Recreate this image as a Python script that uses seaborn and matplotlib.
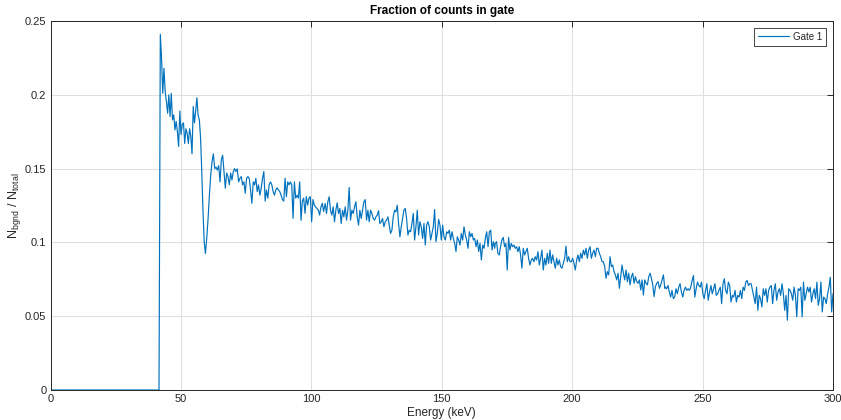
import numpy as np
import pandas as pd
import matplotlib
matplotlib.use("Agg")
import matplotlib.pyplot as plt
from matplotlib.ticker import FuncFormatter
import seaborn as sns

# ---------------- data ----------------
pre_energy = [0.0, 41.6]
pre_values = [0.0, 0.0]

peak_range = (42.1, 59.4)
peak_values = [
    0.241, 0.225, 0.201, 0.218, 0.202, 0.1955, 0.1875, 0.200, 0.1853, 0.201,
    0.183, 0.1864, 0.1762, 0.182, 0.175, 0.165, 0.189, 0.173, 0.180, 0.181,
    0.167, 0.177, 0.174, 0.167, 0.177, 0.172, 0.160, 0.192, 0.181, 0.189,
    0.198, 0.186, 0.183, 0.171, 0.148, 0.121, 0.100, 0.0925,
]

seg1_range = (59.9, 104.7)
seg1_values = [
    0.103, 0.116,
    0.132, 0.1455, 0.1548, 0.160, 0.150, 0.151, 0.149, 0.152, 0.141, 0.156,
    0.159, 0.148, 0.1367, 0.147, 0.1446, 0.139, 0.147, 0.1423, 0.148, 0.150,
    0.148, 0.1498, 0.141, 0.1434, 0.1446, 0.139, 0.141, 0.1333, 0.1434, 0.1446,
    0.1434, 0.1355, 0.1265, 0.141, 0.139, 0.1434, 0.1344, 0.139, 0.132, 0.1367,
    0.1434, 0.148, 0.128, 0.1355, 0.130, 0.139, 0.141, 0.139, 0.1344, 0.132,
    0.1355, 0.137, 0.1355, 0.1344, 0.132, 0.129, 0.128, 0.1434, 0.131, 0.141,
    0.139, 0.141, 0.139, 0.1163, 0.141, 0.130, 0.132, 0.130, 0.141, 0.115,
    0.128, 0.130, 0.1197, 0.131, 0.1253, 0.130, 0.131, 0.114, 0.129, 0.1253,
    0.124, 0.123, 0.122, 0.1185, 0.124, 0.1265, 0.121,
]

seg2_range = (105.3, 170.3)
seg2_values = [
    0.1264, 0.1196, 0.1275, 0.1309, 0.1218, 0.1185, 0.1241, 0.114, 0.1218, 0.1268,
    0.1196, 0.123, 0.1128, 0.1218, 0.1173, 0.1241, 0.1151, 0.1218, 0.1372, 0.1151,
    0.1218, 0.1196, 0.1241, 0.1275, 0.1173, 0.1117, 0.1218, 0.1162, 0.1218, 0.1275,
    0.129, 0.1151, 0.1218, 0.114, 0.1218, 0.1196, 0.1162, 0.1151, 0.1173, 0.1185,
    0.1214, 0.1128, 0.114, 0.1162, 0.1106, 0.114, 0.1151, 0.1173, 0.1117, 0.1061,
    0.1083, 0.1173, 0.1218, 0.1207, 0.1252, 0.1128, 0.1038, 0.1106, 0.1162, 0.1218,
    0.123, 0.1162, 0.105, 0.1083, 0.1072, 0.1128, 0.1196, 0.1016, 0.1106, 0.1218,
    0.105, 0.114, 0.1106, 0.1027, 0.1128, 0.0982, 0.1117, 0.114, 0.1106, 0.1016,
    0.1061, 0.1106, 0.1223, 0.1005, 0.1061, 0.1156, 0.1117, 0.1016, 0.1117, 0.1038,
    0.1016, 0.1072, 0.1061, 0.1083, 0.1016, 0.1072, 0.1027, 0.0994, 0.0938, 0.1038,
    0.1016, 0.0982, 0.1061, 0.1016, 0.1106, 0.105, 0.1016, 0.096, 0.1072, 0.1038,
    0.1061, 0.1016, 0.1027, 0.0971, 0.1016, 0.0938, 0.0994, 0.0881, 0.0982, 0.096,
    0.1027, 0.1072, 0.0971, 0.1072, 0.1083, 0.0949, 0.1005, 0.096,
]

seg3_range = (170.5, 235.5)
seg3_values = [
    0.0993, 0.1005, 0.0926, 0.0915, 0.0971, 0.1016, 0.1034, 0.0971, 0.0993, 0.0813,
    0.1034, 0.0948, 0.0993, 0.0971, 0.0982, 0.096, 0.0971, 0.0937, 0.0971, 0.0915,
    0.0825, 0.096, 0.0915, 0.0937, 0.096, 0.0892, 0.0847, 0.0881, 0.0892, 0.0869,
    0.0903, 0.0881, 0.0937, 0.0847, 0.0892, 0.0948, 0.0813, 0.0892, 0.0847, 0.0926,
    0.0858, 0.0948, 0.0858, 0.0915, 0.0869, 0.0825, 0.0892, 0.0847, 0.0881, 0.0836,
    0.0825, 0.0858, 0.0892, 0.0975, 0.0869, 0.0903, 0.0869, 0.0869, 0.0892, 0.0858,
    0.0813, 0.0881, 0.0915, 0.0869, 0.0926, 0.0892, 0.0948, 0.0915, 0.096, 0.0892,
    0.0948, 0.0971, 0.0892, 0.0926, 0.0948, 0.0903, 0.096, 0.096, 0.0926, 0.0903,
    0.0869, 0.0869, 0.0836, 0.0757, 0.0802, 0.078, 0.0903, 0.0836, 0.0847, 0.0802,
    0.078, 0.0746, 0.0791, 0.0689, 0.0768, 0.0847, 0.0791, 0.0746, 0.0813, 0.0734,
    0.0791, 0.0712, 0.0768, 0.0791, 0.0723, 0.0768, 0.0734, 0.0723, 0.0746, 0.0678,
    0.0746, 0.0644, 0.0746, 0.0723, 0.0712, 0.0768, 0.0791, 0.0757, 0.0712, 0.0633,
    0.07, 0.0723, 0.0734, 0.0689, 0.0712, 0.0746, 0.078, 0.0689,
]

seg4_range = (235.7, 300.0)
seg4_values = [
    0.0697, 0.0686, 0.0708, 0.0664, 0.063, 0.0675, 0.0619, 0.063, 0.0686, 0.0652,
    0.0697, 0.072, 0.0664, 0.063, 0.0675, 0.0697, 0.0675, 0.0686, 0.0675, 0.0697,
    0.0742, 0.0776, 0.063, 0.0686, 0.0731, 0.0708, 0.0697, 0.0731, 0.0652, 0.0619,
    0.0675, 0.072, 0.0608, 0.0664, 0.0708, 0.0652, 0.0686, 0.072, 0.0641, 0.0652,
    0.0675, 0.0697, 0.0585, 0.072, 0.0753, 0.0675, 0.0652, 0.0731, 0.0708, 0.0596,
    0.0641, 0.063, 0.0675, 0.0596, 0.0641, 0.063, 0.0675, 0.0619, 0.0697, 0.0675,
    0.0731, 0.0742, 0.0708, 0.072, 0.072, 0.0675, 0.063, 0.0585, 0.0697, 0.054,
    0.0641, 0.0619, 0.0563, 0.0686, 0.0641, 0.0686, 0.0596, 0.0675, 0.0697, 0.0708,
    0.0585, 0.0675, 0.072, 0.0608, 0.0664, 0.0686, 0.0641, 0.072, 0.0652, 0.054,
    0.0641, 0.0473, 0.0686, 0.0675, 0.0652, 0.0608, 0.0697, 0.0641, 0.0496, 0.0686,
    0.0675, 0.0697, 0.0496, 0.0731, 0.0608, 0.0652, 0.0697, 0.0664, 0.0697, 0.0596,
    0.0652, 0.0686, 0.0619, 0.0731, 0.0574, 0.0619, 0.0731, 0.0529, 0.063, 0.0619,
    0.0585, 0.0652, 0.0697, 0.0764, 0.0529, 0.0652,
]

x_ticks = [0, 50, 100, 150, 200, 250, 300]
y_ticks = [0, 0.05, 0.1, 0.15, 0.2, 0.25]
title = "Fraction of counts in gate"
xlabel = "Energy (keV)"
ylabel = r"N$_{bgnd}$ / N$_{total}$"
series_name = "Gate 1"

# ---------------- build table ----------------
energy = list(pre_energy)
ratio = list(pre_values)
for (a, b), vals in [(peak_range, peak_values), (seg1_range, seg1_values),
                     (seg2_range, seg2_values), (seg3_range, seg3_values),
                     (seg4_range, seg4_values)]:
    energy.extend(np.linspace(a, b, len(vals)))
    ratio.extend(vals)
df = pd.DataFrame({"Energy": energy, "Ratio": ratio, "Series": series_name})

# ---------------- style ----------------
sns.set_style("white")
plt.rcParams["font.family"] = ["Liberation Sans", "DejaVu Sans"]
plt.rcParams["mathtext.default"] = "regular"

line_color = "#0072BD"
ax_color = "#262626"

fig = plt.figure(figsize=(8.41, 4.20), dpi=100)
ax = fig.add_axes([50.5 / 841, 30 / 420, (833 - 50.5) / 841, (390 - 21) / 420])

sns.lineplot(data=df, x="Energy", y="Ratio", hue="Series",
             palette=[line_color], estimator=None, sort=False,
             linewidth=0.85, ax=ax)

ax.set_xlim(0, 300)
ax.set_ylim(0, 0.25)
ax.set_xticks(x_ticks)
ax.set_yticks(y_ticks)
ax.yaxis.set_major_formatter(FuncFormatter(lambda v, p: f"{v:g}"))
ax.grid(True, color="#dedede", linewidth=0.7)
ax.set_axisbelow(True)
for s in ax.spines.values():
    s.set_visible(True)
    s.set_color(ax_color)
    s.set_linewidth(0.7)
ax.tick_params(direction="in", length=4, width=0.7, colors=ax_color,
               labelsize=8, top=True, right=True, pad=3)

ax.set_title(title, fontsize=8.5, fontweight="bold", color="black", pad=5)
ax.set_xlabel(xlabel, fontsize=8.5, color=ax_color, labelpad=2)
ax.set_ylabel(ylabel, fontsize=9, color=ax_color, labelpad=1)

leg = ax.legend(loc="upper right", fontsize=7, frameon=True, fancybox=False,
                edgecolor=ax_color, framealpha=1, handlelength=3.2,
                borderpad=0.4, borderaxespad=0.7, handletextpad=0.4)
leg.get_frame().set_linewidth(0.6)

fig.savefig("out.png", dpi=100)
